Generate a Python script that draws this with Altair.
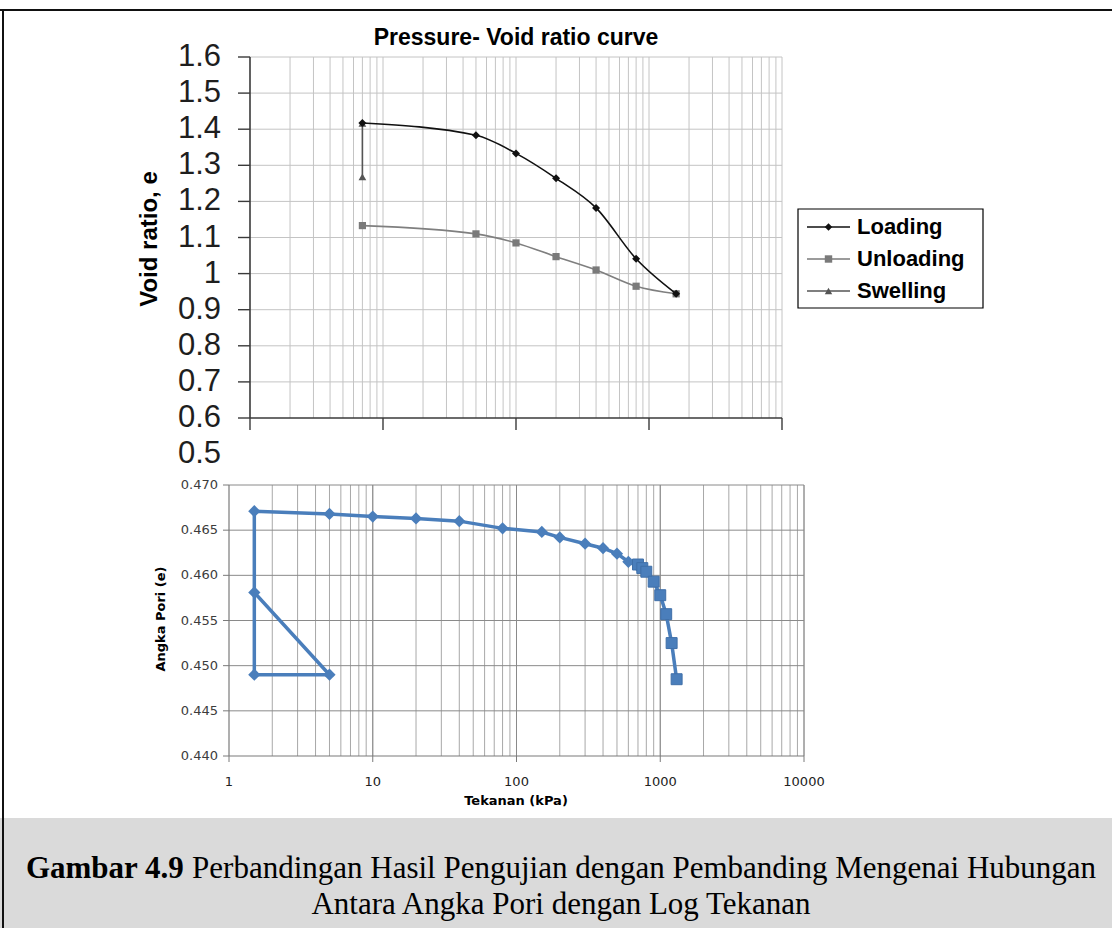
import altair as alt
import pandas as pd

W, H = 1112, 928

# ---------------- data: top chart (Pressure - Void ratio curve) ----------------
top_load_p = [7, 50, 100, 200, 400, 800, 1600]
top_load_e = [1.417, 1.383, 1.333, 1.264, 1.182, 1.041, 0.944]
top_unload_p = [7, 50, 100, 200, 400, 800, 1600]
top_unload_e = [1.133, 1.110, 1.085, 1.047, 1.010, 0.965, 0.944]
top_swell_p = [7, 7]
top_swell_e = [1.268, 1.416]
top_y_ticks = [0.5, 0.6, 0.7, 0.8, 0.9, 1.0, 1.1, 1.2, 1.3, 1.4, 1.5, 1.6]
top_y_labels = ["0.5", "0.6", "0.7", "0.8", "0.9", "1", "1.1", "1.2", "1.3", "1.4", "1.5", "1.6"]
legend_names = ["Loading", "Unloading", "Swelling"]

# ---------------- data: bottom chart (Angka Pori vs Tekanan) ----------------
bot_p = [1.5, 5, 1.5, 1.5, 5, 10, 20, 40, 80, 150, 200, 300, 400, 500, 600, 700]
bot_e = [0.4581, 0.4490, 0.4490, 0.4671, 0.4668, 0.4665, 0.4663, 0.4660, 0.4652,
         0.4648, 0.4642, 0.4635, 0.4630, 0.4624, 0.4615, 0.4610]
bot_sq_p = [700, 750, 800, 900, 1000, 1100, 1200, 1300]
bot_sq_e = [0.4612, 0.4608, 0.4604, 0.4593, 0.4578, 0.4557, 0.4525, 0.4485]
bot_y_ticks = [0.440, 0.445, 0.450, 0.455, 0.460, 0.465, 0.470]
bot_y_labels = ["0.440", "0.445", "0.450", "0.455", "0.460", "0.465", "0.470"]
bot_x_ticks = [1, 10, 100, 1000, 10000]
bot_x_labels = ["1", "10", "100", "1000", "10000"]

caption_bold = "Gambar 4.9"
caption_rest = "Perbandingan Hasil Pengujian dengan Pembanding Mengenai Hubungan"
caption_line2 = "Antara Angka Pori dengan Log Tekanan"

decades = [1, 10, 100, 1000, 10000]
grid_x = [m * 10 ** d for d in range(4) for m in range(1, 10)][1:] + [10000]

# ---------------- scales (pixel ranges on a single canvas) ----------------
TX = alt.Scale(type="log", domain=[1, 10000], range=[250, 782], nice=False)
TY = alt.Scale(domain=[0.6, 1.6], range=[418, 57], nice=False, zero=False)
BX = alt.Scale(type="log", domain=[1, 10000], range=[229, 804], nice=False)
BY = alt.Scale(domain=[0.44, 0.47], range=[756, 485], nice=False, zero=False)


def X(f, sc):
    return alt.X(f, type="quantitative", scale=sc, axis=None)


def Y(f, sc):
    return alt.Y(f, type="quantitative", scale=sc, axis=None)


def one(t=""):
    return pd.DataFrame({"t": [t]})


def text_at(t, x, y, size, font, weight="normal", align="center",
            baseline="alphabetic", angle=None, color="black"):
    kw = dict(fontSize=size, font=font, fontWeight=weight, align=align,
              baseline=baseline, color=color)
    if angle is not None:
        kw["angle"] = angle
    return alt.Chart(one(t)).mark_text(**kw).encode(
        text="t:N", x=alt.value(x), y=alt.value(y))


layers = []

# background band at the bottom (page watermark area)
layers.append(alt.Chart(one()).mark_rect(color="#dadada").encode(
    x=alt.value(0), x2=alt.value(W), y=alt.value(818), y2=alt.value(H)))

# ================= TOP CHART =================
tv = pd.DataFrame({"p": grid_x, "y0": 0.6, "y1": 1.6})
layers.append(alt.Chart(tv).mark_rule(color="#c4c4c4", strokeWidth=1).encode(
    x=X("p", TX), y=Y("y0", TY), y2="y1"))
th = pd.DataFrame({"e": top_y_ticks[2:], "x0": 1, "x1": 10000})
layers.append(alt.Chart(th).mark_rule(color="#c4c4c4", strokeWidth=1).encode(
    y=Y("e", TY), x=X("x0", TX), x2="x1"))
# axis lines
layers.append(alt.Chart(pd.DataFrame({"p": [1], "y0": [0.6], "y1": [1.6]})).mark_rule(
    color="#3a3a3a", strokeWidth=1.6).encode(x=X("p", TX), y=Y("y0", TY), y2="y1"))
layers.append(alt.Chart(pd.DataFrame({"e": [0.6], "x0": [1], "x1": [10000]})).mark_rule(
    color="#3a3a3a", strokeWidth=1.6).encode(y=Y("e", TY), x=X("x0", TX), x2="x1"))
# y ticks
layers.append(alt.Chart(pd.DataFrame({"e": top_y_ticks[1:]})).mark_rule(
    color="#3a3a3a", strokeWidth=1.4).encode(y=Y("e", TY), x=alt.value(238), x2=alt.value(250)))
# x decade ticks
layers.append(alt.Chart(pd.DataFrame({"p": decades})).mark_rule(
    color="#3a3a3a", strokeWidth=1.4).encode(x=X("p", TX), y=alt.value(418), y2=alt.value(430)))
# y labels
layers.append(alt.Chart(pd.DataFrame({"e": top_y_ticks, "lab": top_y_labels})).mark_text(
    font="Liberation Sans", fontSize=31, align="right", baseline="middle", color="#1e1e1e").encode(
    y=Y("e", TY), x=alt.value(221), text="lab:N"))
# titles
layers.append(text_at("Void ratio, e", 157, 239, 24, "Liberation Sans", "bold",
                      baseline="alphabetic", angle=270))
layers.append(text_at("Pressure- Void ratio curve", 516, 45, 23, "Liberation Sans", "bold"))

# series
df_un = pd.DataFrame({"p": top_unload_p, "e": top_unload_e})
df_sw = pd.DataFrame({"p": top_swell_p, "e": top_swell_e})
df_ld = pd.DataFrame({"p": top_load_p, "e": top_load_e})
layers.append(alt.Chart(df_un).mark_line(color="#7f7f7f", strokeWidth=1.6, interpolate="monotone").encode(
    x=X("p", TX), y=Y("e", TY)))
layers.append(alt.Chart(df_un).mark_point(shape="square", filled=True, size=52, color="#7a7a7a", opacity=1).encode(
    x=X("p", TX), y=Y("e", TY)))
layers.append(alt.Chart(df_sw).mark_line(color="#555555", strokeWidth=1.6).encode(
    x=X("p", TX), y=Y("e", TY)))
layers.append(alt.Chart(df_sw).mark_point(shape="triangle-up", filled=True, size=60, color="#555555", opacity=1).encode(
    x=X("p", TX), y=Y("e", TY)))
layers.append(alt.Chart(df_ld).mark_line(color="#111111", strokeWidth=1.6, interpolate="monotone").encode(
    x=X("p", TX), y=Y("e", TY)))
layers.append(alt.Chart(df_ld).mark_point(shape="diamond", filled=True, size=64, color="#111111", opacity=1).encode(
    x=X("p", TX), y=Y("e", TY)))

# legend
layers.append(alt.Chart(one()).mark_rect(fill="white", stroke="black", strokeWidth=1.2).encode(
    x=alt.value(798), x2=alt.value(983), y=alt.value(209), y2=alt.value(308)))
leg_y = [227, 259, 291]
leg_col = ["#111111", "#7a7a7a", "#555555"]
leg_shape = ["diamond", "square", "triangle-up"]
for name, yy, col, shp in zip(legend_names, leg_y, leg_col, leg_shape):
    layers.append(alt.Chart(one()).mark_rule(color=col, strokeWidth=1.6).encode(
        x=alt.value(807), x2=alt.value(850), y=alt.value(yy)))
    layers.append(alt.Chart(one()).mark_point(shape=shp, filled=True, size=55, color=col, opacity=1).encode(
        x=alt.value(828.5), y=alt.value(yy)))
    layers.append(text_at(name, 857, yy, 22, "Liberation Sans", "bold", align="left", baseline="middle"))

# ================= BOTTOM CHART =================
bv = pd.DataFrame({"p": grid_x, "y0": 0.44, "y1": 0.47})
layers.append(alt.Chart(bv).mark_rule(color="#a8a8a8", strokeWidth=1).encode(
    x=X("p", BX), y=Y("y0", BY), y2="y1"))
bvd = pd.DataFrame({"p": decades[1:], "y0": 0.44, "y1": 0.47})
layers.append(alt.Chart(bvd).mark_rule(color="#8a8a8a", strokeWidth=1).encode(
    x=X("p", BX), y=Y("y0", BY), y2="y1"))
bh = pd.DataFrame({"e": bot_y_ticks[1:], "x0": 1, "x1": 10000})
layers.append(alt.Chart(bh).mark_rule(color="#8a8a8a", strokeWidth=1).encode(
    y=Y("e", BY), x=X("x0", BX), x2="x1"))
layers.append(alt.Chart(pd.DataFrame({"p": [1], "y0": [0.44], "y1": [0.47]})).mark_rule(
    color="#7a7a7a", strokeWidth=1.2).encode(x=X("p", BX), y=Y("y0", BY), y2="y1"))
layers.append(alt.Chart(pd.DataFrame({"e": [0.44], "x0": [1], "x1": [10000]})).mark_rule(
    color="#7a7a7a", strokeWidth=1.2).encode(y=Y("e", BY), x=X("x0", BX), x2="x1"))
layers.append(alt.Chart(pd.DataFrame({"e": bot_y_ticks})).mark_rule(
    color="#7a7a7a", strokeWidth=1).encode(y=Y("e", BY), x=alt.value(223), x2=alt.value(229)))
layers.append(alt.Chart(pd.DataFrame({"p": bot_x_ticks})).mark_rule(
    color="#7a7a7a", strokeWidth=1).encode(x=X("p", BX), y=alt.value(756), y2=alt.value(762)))
layers.append(alt.Chart(pd.DataFrame({"e": bot_y_ticks, "lab": bot_y_labels})).mark_text(
    font="DejaVu Sans", fontSize=13, align="right", baseline="middle", color="#3c3c3c").encode(
    y=Y("e", BY), x=alt.value(218), text="lab:N"))
layers.append(alt.Chart(pd.DataFrame({"p": bot_x_ticks, "lab": bot_x_labels})).mark_text(
    font="DejaVu Sans", fontSize=13, align="center", baseline="middle", color="#222222").encode(
    x=X("p", BX), y=alt.value(782), text="lab:N"))
layers.append(text_at("Angka Pori (e)", 165, 619, 13, "DejaVu Sans", "bold", angle=270))
layers.append(text_at("Tekanan (kPa)", 516, 805, 13, "DejaVu Sans", "bold"))

df_b = pd.DataFrame({"p": bot_p, "e": bot_e, "i": list(range(len(bot_p)))})
df_s = pd.DataFrame({"p": bot_sq_p, "e": bot_sq_e})
blue = "#4a7ebb"
layers.append(alt.Chart(df_b).mark_line(color=blue, strokeWidth=3.5).encode(
    x=X("p", BX), y=Y("e", BY), order=alt.Order("i:Q")))
layers.append(alt.Chart(df_s).mark_line(color=blue, strokeWidth=3.5).encode(
    x=X("p", BX), y=Y("e", BY)))
layers.append(alt.Chart(df_b).mark_point(shape="diamond", filled=True, size=150, color=blue, opacity=1).encode(
    x=X("p", BX), y=Y("e", BY)))
layers.append(alt.Chart(df_s).mark_point(shape="square", filled=True, size=120, color=blue, opacity=1,
                                         stroke="#3f6fa8", strokeWidth=1).encode(
    x=X("p", BX), y=Y("e", BY)))

# ================= CAPTION =================
cap_size = 31
cap_y1, cap_y2 = 878, 914
bold_w = 5.111 * cap_size + 0.25 * cap_size
total_w = bold_w + 29.163 * cap_size
cap_x0 = 561 - total_w / 2
layers.append(text_at(caption_bold, cap_x0, cap_y1, cap_size, "Liberation Serif", "bold", align="left"))
layers.append(text_at(caption_rest, cap_x0 + bold_w, cap_y1, cap_size, "Liberation Serif", "normal", align="left"))
layers.append(text_at(caption_line2, 561, cap_y2, cap_size, "Liberation Serif", "normal"))

# page border lines
layers.append(alt.Chart(one()).mark_rule(color="#111111", strokeWidth=2).encode(
    x=alt.value(0), x2=alt.value(W), y=alt.value(10)))
layers.append(alt.Chart(one()).mark_rule(color="#111111", strokeWidth=2).encode(
    x=alt.value(3), y=alt.value(10), y2=alt.value(H)))

chart = alt.layer(*layers).resolve_scale(x="independent", y="independent").properties(
    width=W, height=H, autosize=alt.AutoSizeParams(type="none"), padding=0,
    background="white").configure_view(stroke=None)

chart.save("out.html", embed_options={"renderer": "svg", "actions": False})
